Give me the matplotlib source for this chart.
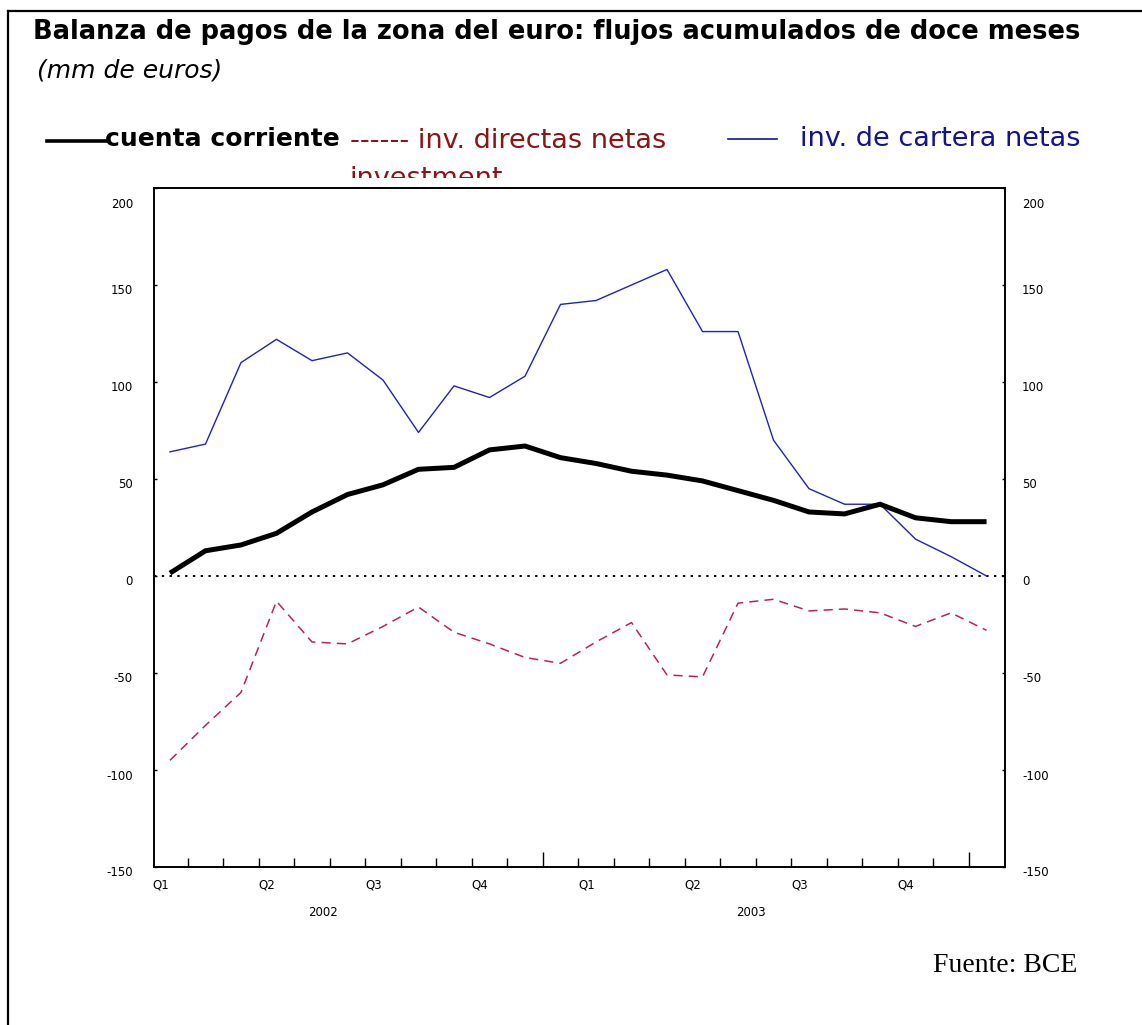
import matplotlib
matplotlib.use("Agg")
import matplotlib.pyplot as plt
from matplotlib.lines import Line2D
from matplotlib.patches import Rectangle

# ---------------- data ----------------
months = list(range(24))  # Jan 2002 .. Dec 2003
cuenta_corriente = [1.5, 13, 16, 22, 33, 42, 47, 55, 56, 65, 67, 61,
                    58, 54, 52, 49, 44, 39, 33, 32, 37, 30, 28, 28]
inv_directas = [-95, -77, -60, -13, -34, -35, -26, -16, -29, -35, -42, -45,
                -34, -24, -51, -52, -14, -12, -18, -17, -19, -26, -19, -28]
inv_cartera = [64, 68, 110, 122, 111, 115, 101, 74, 98, 92, 103, 140,
               142, 150, 158, 126, 126, 70, 45, 37, 37, 19, 10, 0]
y_ticks = [200, 150, 100, 50, 0, -50, -100, -150]
quarter_labels = ["Q1", "Q2", "Q3", "Q4", "Q1", "Q2", "Q3", "Q4"]
years = ["2002", "2003"]

W, H = 1142, 1025
fig = plt.figure(figsize=(W / 100, H / 100), dpi=100)
fig.patch.set_facecolor("white")

def fx(px):
    return px / W

def fy(py):
    return 1 - py / H

ax_l, ax_r, ax_t, ax_b = 154, 1005, 188, 867
ax = fig.add_axes([fx(ax_l), fy(ax_b), fx(ax_r - ax_l), (ax_b - ax_t) / H])
ax.set_xlim(-0.45, 23.52)
ax.set_ylim(-150, 200)

blue_line = "#2222b4"
red_line = "#b5245c"
ax.plot(months, inv_cartera, color=blue_line, lw=1.0, zorder=3)
ax.plot(months, inv_directas, color=red_line, lw=1.1, dashes=(6, 4), zorder=3)
ax.plot(months, cuenta_corriente, color="black", lw=3.6, zorder=4,
        solid_capstyle="butt")
ax.axhline(0, color="black", lw=1.4, dashes=(1.2, 2.8), zorder=2)

for s in ax.spines.values():
    s.set_linewidth(1.4)
    s.set_color("black")

# y ticks (both sides, inward, labels drawn manually)
ax.set_yticks(y_ticks)
ax.tick_params(axis="y", which="both", direction="in", length=2.5, width=1,
               left=True, right=True, labelleft=False, labelright=False)
ytr = ax.get_yaxis_transform()
for v in y_ticks:
    off = -17 if v == 200 else -6
    yy = v + off / ((ax_b - ax_t) / 350.0)
    ax.text(-21 / (ax_r - ax_l), yy, str(v), transform=ytr, ha="right",
            va="center", fontsize=8.5, family="DejaVu Sans")
    ax.text(1 + 17 / (ax_r - ax_l), yy, str(v), transform=ytr, ha="left",
            va="center", fontsize=8.5, family="DejaVu Sans")

# x ticks: month boundaries, long at year-ish separators
long_ticks = [10.5, 22.5]
short_ticks = [k + 0.5 for k in range(23) if (k + 0.5) not in long_ticks]
ax.set_xticks(long_ticks)
ax.set_xticks(short_ticks, minor=True)
ax.tick_params(axis="x", which="major", direction="in", length=11, width=1,
               labelbottom=False, top=False)
ax.tick_params(axis="x", which="minor", direction="in", length=6.5, width=1,
               top=False)

xtr = ax.get_xaxis_transform()
ah = ax_b - ax_t
for k, q in enumerate(quarter_labels):
    ax.text(3 * k - 0.5, -18 / ah, q, transform=xtr, ha="left", va="center",
            fontsize=8.5, family="DejaVu Sans")
for xpos, yl in zip([4.3, 16.37], years):
    ax.text(xpos, -46 / ah, yl, transform=xtr, ha="center", va="center",
            fontsize=8.5, family="DejaVu Sans")

# ---------------- titles & legend ----------------
fig.text(fx(33), fy(32), "Balanza de pagos de la zona del euro: flujos acumulados de doce meses",
         fontsize=18.5, fontweight="bold", ha="left", va="center", family="DejaVu Sans")
fig.text(fx(37), fy(70), "(mm de euros)", fontsize=18, style="italic",
         ha="left", va="center", family="DejaVu Sans")

leg_y = 139
fig.add_artist(Line2D([fx(47), fx(107)], [fy(141), fy(141)], color="black", lw=2.6))
fig.text(fx(105), fy(leg_y), "cuenta corriente", fontsize=18, fontweight="bold",
         ha="left", va="center", family="DejaVu Sans")
red_txt = "#8b1414"
fig.text(fx(350), fy(leg_y + 2), "------ inv. directas netas", fontsize=19.5, color=red_txt,
         ha="left", va="center", family="DejaVu Sans")
blue_txt = "#14148c"
fig.add_artist(Line2D([fx(728), fx(777)], [fy(139), fy(139)], color=blue_txt, lw=1.2))
fig.text(fx(800), fy(leg_y), "inv. de cartera netas", fontsize=19.5, color=blue_txt,
         ha="left", va="center", family="DejaVu Sans")
fig.text(fx(350), fy(186), "investment", fontsize=19.5, color=red_txt,
         ha="left", va="baseline", family="DejaVu Sans", zorder=1)
fig.add_artist(Rectangle((fx(340), fy(186.5)), fx(200), (186.5 - 178) / H,
                         facecolor="white", edgecolor="none", zorder=5))

fig.text(fx(1077), fy(965), "Fuente: BCE", fontsize=20, ha="right", va="center",
         family="Liberation Serif")

# outer frame (top and left edges)
fig.add_artist(Line2D([fx(8), 1.0], [fy(11), fy(11)], color="black", lw=1.6))
fig.add_artist(Line2D([fx(8), fx(8)], [fy(11), 0.0], color="black", lw=1.6))

fig.savefig("out.png", dpi=100, facecolor="white")
